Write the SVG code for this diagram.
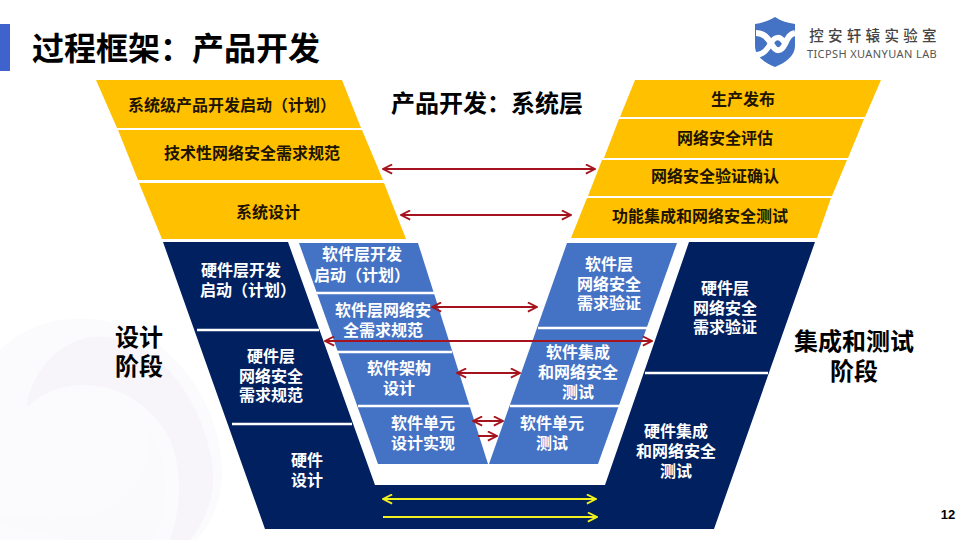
<svg xmlns="http://www.w3.org/2000/svg" width="960" height="540" viewBox="0 0 960 540">
<style>
text{font-family:"Noto Sans CJK SC","Liberation Sans",sans-serif;text-anchor:middle;font-weight:700}
.y{fill:#FFC000}.n{fill:#002060}.b{fill:#4472C4}
.ty{font-size:16px;fill:#201400}.tw{font-size:16px;fill:#fff}
.h{font-size:24px;fill:#000}
.r{stroke:#A5141E;stroke-width:2;fill:none}
.g{stroke:#F2F21E;stroke-width:2;fill:none}
.d{stroke:#fff;stroke-width:2.4;fill:none}
</style>
<defs>
<marker id="ar" viewBox="0 0 12 12" refX="11" refY="6" markerWidth="11" markerHeight="11" markerUnits="userSpaceOnUse" orient="auto-start-reverse"><path d="M1 1L11 6L1 11" fill="none" stroke="#A5141E" stroke-width="2"/></marker>
<marker id="ag" viewBox="0 0 12 12" refX="11" refY="6" markerWidth="11" markerHeight="11" markerUnits="userSpaceOnUse" orient="auto-start-reverse"><path d="M1 1L11 6L1 11" fill="none" stroke="#F2F21E" stroke-width="2"/></marker>
</defs>
<rect width="960" height="540" fill="#fff"/>
<g id="background">
<path d="M0 350C25 325 60 315 100 320C165 328 225 400 222 480C220 505 210 525 196 540L0 540Z" fill="#FBFBFD"/>
<path d="M27 407C28 385 48 345 90 337C150 330 205 395 213 470C215 500 204 522 190 540L170 540C182 505 182 470 170 440C150 400 110 380 70 386C52 389 38 397 27 407Z" fill="#F7F5FA"/>
<path d="M147 425C155 460 138 495 105 510C70 522 30 520 0 513L0 525C25 530 50 535 67 540L150 540C172 510 170 460 147 425Z" fill="#FAFAFD"/>
</g>
<g id="header">
<rect x="0" y="24" width="10" height="47" fill="#3F62CC"/>
<text x="176" y="60" style="font-size:32px" fill="#000">过程框架：产品开发</text>
</g>
<g id="logo">
<path d="M775 17C781 21 788 23 795 24V46C795 56 785 63 775 67C765 63 755 56 755 46V24C762 23 769 21 775 17Z" fill="#4472C4"/>
<path d="M756 33C764 33 768 38 772 45C776 52 781 52 785 44C788 37 790 34 795 33" fill="none" stroke="#fff" stroke-width="6"/>
<path d="M756 55C764 55 768 48 771 43C775 36 780 36 784 42" fill="none" stroke="#fff" stroke-width="5.5"/>
<text x="875" y="41" style="font-size:14.5px;letter-spacing:4.3px;fill:#444;font-weight:500">控安轩辕实验室</text>
<text x="872" y="58" style="font-family:'Noto Sans','Liberation Sans',sans-serif;font-size:11px;letter-spacing:.4px;fill:#555;font-weight:400">TICPSH XUANYUAN LAB</text>
</g>
<g id="sys-left-1"><polygon class="y" points="96,80 342,80 361,128 117,128"/><text class="ty" x="232" y="111">系统级产品开发启动（计划）</text></g>
<g id="sys-left-2"><polygon class="y" points="118,130 362,130 383,180 138,180"/><text class="ty" x="252" y="159">技术性网络安全需求规范</text></g>
<g id="sys-left-3"><polygon class="y" points="139,183 384,183 406,239 162,239"/><text class="ty" x="268" y="218">系统设计</text></g>
<g id="sys-right-1"><polygon class="y" points="635,80 881,80 865,117 620,117"/><text class="ty" x="743" y="105">生产发布</text></g>
<g id="sys-right-2"><polygon class="y" points="619,119 864,119 848,158 604,158"/><text class="ty" x="725" y="144">网络安全评估</text></g>
<g id="sys-right-3"><polygon class="y" points="602,160 847,160 832,196 588,196"/><text class="ty" x="715" y="182">网络安全验证确认</text></g>
<g id="sys-right-4"><polygon class="y" points="587,198 831,198 817,238 571,238"/><text class="ty" x="700" y="222">功能集成和网络安全测试</text></g>
<g id="hw-v">
<polygon class="n" points="163,242 288,242 375,485 605,485 689,242 815,242 714,529 265,529"/>
<path class="d" d="M197 330H319M232 424H352M645 373H768"/>
<g id="hw-1"><text class="tw" x="241" y="276">硬件层开发</text><text class="tw" x="248" y="296">启动（计划）</text></g>
<g id="hw-2"><text class="tw" x="271" y="362">硬件层</text><text class="tw" x="271" y="382">网络安全</text><text class="tw" x="271" y="401">需求规范</text></g>
<g id="hw-3"><text class="tw" x="307" y="466">硬件</text><text class="tw" x="307" y="486">设计</text></g>
<g id="hw-4"><text class="tw" x="725" y="294">硬件层</text><text class="tw" x="725" y="314">网络安全</text><text class="tw" x="725" y="333">需求验证</text></g>
<g id="hw-5"><text class="tw" x="676" y="437">硬件集成</text><text class="tw" x="676" y="457">和网络安全</text><text class="tw" x="676" y="477">测试</text></g>
</g>
<g id="sw-left"><polygon class="b" points="299,243 418,243 488,464 378,464"/>
<path class="d" d="M316 293H436M336 352H452M358 406H470"/>
<g id="sw-1"><text class="tw" x="362" y="260">软件层开发</text><text class="tw" x="362" y="281">启动（计划）</text></g>
<g id="sw-2"><text class="tw" x="383" y="316">软件层网络安</text><text class="tw" x="383" y="336">全需求规范</text></g>
<g id="sw-3"><text class="tw" x="399" y="374">软件架构</text><text class="tw" x="399" y="394">设计</text></g>
<g id="sw-4"><text class="tw" x="423" y="429">软件单元</text><text class="tw" x="423" y="449">设计实现</text></g></g>
<g id="sw-right"><polygon class="b" points="567,243 677,243 598,464 489,464"/>
<path class="d" d="M538 328H650M510 406H622"/>
<g id="sw-5"><text class="tw" x="609" y="270">软件层</text><text class="tw" x="609" y="290">网络安全</text><text class="tw" x="609" y="309">需求验证</text></g>
<g id="sw-6"><text class="tw" x="578" y="358">软件集成</text><text class="tw" x="578" y="378">和网络安全</text><text class="tw" x="578" y="398">测试</text></g>
<g id="sw-7"><text class="tw" x="552" y="429">软件单元</text><text class="tw" x="552" y="449">测试</text></g></g>
<g id="connectors">
<path class="r" marker-start="url(#ar)" marker-end="url(#ar)" d="M383 169H595"/>
<path class="r" marker-start="url(#ar)" marker-end="url(#ar)" d="M401 215H571"/>
<path class="r" marker-start="url(#ar)" marker-end="url(#ar)" d="M432 307H537"/>
<path class="r" marker-start="url(#ar)" marker-end="url(#ar)" d="M325 341H652"/>
<path class="r" marker-start="url(#ar)" marker-end="url(#ar)" d="M457 373H520"/>
<path class="r" marker-start="url(#ar)" marker-end="url(#ar)" d="M473 421H503"/>
<path class="r" marker-end="url(#ar)" d="M478 436H497"/>
<path class="g" marker-start="url(#ag)" marker-end="url(#ag)" d="M383 499H596"/>
<path class="g" marker-end="url(#ag)" d="M383 517H597"/>
</g>
<g id="labels">
<text class="h" x="487" y="112">产品开发：系统层</text>
<text class="h" x="139" y="346">设计</text><text class="h" x="139" y="375">阶段</text>
<text class="h" x="854" y="350">集成和测试</text><text class="h" x="854" y="380">阶段</text>
<text x="948" y="519" style="font-family:'Liberation Sans',sans-serif;font-size:13px;fill:#000">12</text>
</g>
</svg>
